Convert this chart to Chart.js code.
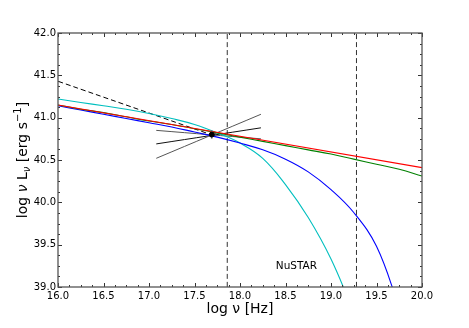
<!DOCTYPE html>
<html>
<head>
<meta charset="utf-8">
<script src="https://cdn.jsdelivr.net/npm/chart.js@4.4.1/dist/chart.umd.min.js"></script>
<style>
  html, body { margin: 0; padding: 0; background: #fff; }
  #wrap { width: 469px; height: 328px; }
</style>
</head>
<body>
<div id="wrap"><canvas id="sed-chart"></canvas></div>
<script>
// x grid, log nu [Hz]
const logNu = [16.0, 16.25, 16.5, 16.75, 17.0, 17.25, 17.5, 17.75, 18.0, 18.25, 18.5, 18.75, 19.0, 19.25, 19.5, 19.75, 20.0];

// model curves, log nu L_nu [erg/s]
const redX = [16.0, 20.0];
const redModel = [41.15, 40.41];
const greenModel = [41.15, 41.10, 41.06, 41.01, 40.96, 40.92, 40.87, 40.82, 40.77, 40.72, 40.67, 40.62, 40.57, 40.51, 40.45, 40.39, 40.31];
const blueModel  = [41.14, 41.09, 41.04, 40.99, 40.94, 40.89, 40.83, 40.77, 40.70, 40.62, 40.51, 40.36, 40.15, 39.88, 39.48, 38.76, null];
const cyanModel  = [41.22, 41.18, 41.14, 41.10, 41.05, 40.99, 40.92, 40.82, 40.70, 40.52, 40.21, 39.82, 39.33, 38.70, null, null, null];

// dashed extrapolation to the data point
const dashX = [16.0, 17.68];
const dashY = [41.43, 40.80];

// observed point with error bar
const obsX = 17.69;
const obsY = 40.80;
const obsErr = 0.05;

// bow-tie slopes
const bowX = [17.08, 18.23];
const bowSteep = [40.52, 41.04];
const bowMid   = [40.69, 40.88];
const bowFlat  = [40.85, 40.75];

// NuSTAR band edges
const bandEdges = [17.86, 19.28];
const bandLabel = 'NuSTAR';
const bandLabelPos = [18.62, 39.24];

const xRange = [16, 20];
const yRange = [39, 42];

const FONT = "'DejaVu Sans', sans-serif";

function toPoints(xs, ys) {
    const pts = [];
    xs.forEach((x, i) => {
        if (ys[i] !== null) pts.push({ x: x, y: ys[i] });
    });
    return pts;
}

function lineSet(data, color, width, dash) {
    return {
        data: data,
        showLine: true,
        borderColor: color,
        backgroundColor: color,
        borderWidth: width,
        borderDash: dash || [],
        pointRadius: 0,
        tension: 0.4,
        fill: false
    };
}

// inward major/minor ticks on all four sides + frame
const frameTicks = {
    id: 'frameTicks',
    afterDatasetsDraw(chart) {
        const ctx = chart.ctx;
        const a = chart.chartArea;
        const xs = chart.scales.x;
        const ys = chart.scales.y;
        ctx.save();
        ctx.strokeStyle = '#333';
        ctx.lineWidth = 1;

        const tick = (p, len, horizontal) => {
            ctx.beginPath();
            if (horizontal) {
                const px = Math.round(p) + 0.5;
                ctx.moveTo(px, a.bottom); ctx.lineTo(px, a.bottom - len);
                ctx.moveTo(px, a.top); ctx.lineTo(px, a.top + len);
            } else {
                const py = Math.round(p) + 0.5;
                ctx.moveTo(a.left, py); ctx.lineTo(a.left + len, py);
                ctx.moveTo(a.right, py); ctx.lineTo(a.right - len, py);
            }
            ctx.stroke();
        };
        const drawAxis = (scale, horizontal) => {
            const vals = scale.ticks.map(t => t.value);
            for (let i = 0; i < vals.length; i++) {
                tick(scale.getPixelForValue(vals[i]), 4, horizontal);
                if (i < vals.length - 1) {
                    const step = (vals[i + 1] - vals[i]) / 4;
                    for (let k = 1; k < 4; k++) {
                        tick(scale.getPixelForValue(vals[i] + k * step), 2, horizontal);
                    }
                }
            }
        };
        drawAxis(xs, true);
        drawAxis(ys, false);

        ctx.strokeStyle = '#555';
        ctx.lineWidth = 1.3;
        ctx.strokeRect(a.left, a.top, a.right - a.left, a.bottom - a.top);

        // band label
        ctx.fillStyle = '#000';
        ctx.font = '10.5px ' + FONT;
        ctx.textAlign = 'center';
        ctx.textBaseline = 'middle';
        ctx.fillText(bandLabel, xs.getPixelForValue(bandLabelPos[0]), ys.getPixelForValue(bandLabelPos[1]));
        ctx.restore();
    },
    afterDraw(chart) {
        // y axis title with sub/superscripts
        const ctx = chart.ctx;
        const a = chart.chartArea;
        const parts = [
            { t: 'log ', s: 14, dy: 0 },
            { t: 'ν', s: 14, dy: 0, it: true },
            { t: ' L', s: 14, dy: 0 },
            { t: 'ν', s: 10, dy: 3, it: true },
            { t: ' [erg s', s: 14, dy: 0 },
            { t: '−1', s: 10, dy: -6 },
            { t: ']', s: 14, dy: 0 }
        ];
        ctx.save();
        const fontOf = p => (p.it ? 'italic ' : '') + p.s + 'px ' + FONT;
        let total = 0;
        parts.forEach(p => { ctx.font = fontOf(p); p.w = ctx.measureText(p.t).width; total += p.w; });
        ctx.translate(27, (a.top + a.bottom) / 2);
        ctx.rotate(-Math.PI / 2);
        ctx.fillStyle = '#000';
        ctx.textAlign = 'left';
        ctx.textBaseline = 'alphabetic';
        let cx = -total / 2;
        parts.forEach(p => {
            ctx.font = fontOf(p);
            ctx.fillText(p.t, cx, p.dy);
            cx += p.w;
        });
        ctx.restore();
    }
};

const datasets = [
    // observed point
    { data: [{ x: obsX, y: obsY }], showLine: false, pointRadius: 2.5, pointStyle: 'circle',
      backgroundColor: '#000', borderColor: '#000', borderWidth: 1 },
    lineSet([{ x: obsX, y: obsY - obsErr }, { x: obsX, y: obsY + obsErr }], '#666', 1.2),
    lineSet(toPoints(redX, redModel), '#ff0000', 1.1),
    lineSet(toPoints(logNu, greenModel), '#008000', 1.1),
    lineSet(toPoints(logNu, blueModel), '#0000ff', 1.1),
    lineSet(toPoints(logNu, cyanModel), '#00bfbf', 1.1),
    lineSet(toPoints(dashX, dashY), '#000', 1, [5, 3]),
    lineSet(toPoints(bowX, bowSteep), '#555', 1),
    lineSet(toPoints(bowX, bowMid), '#111', 1),
    lineSet(toPoints(bowX, bowFlat), '#555', 1),
    lineSet([{ x: bandEdges[0], y: yRange[0] }, { x: bandEdges[0], y: yRange[1] }], '#333', 1, [5, 3]),
    lineSet([{ x: bandEdges[1], y: yRange[0] }, { x: bandEdges[1], y: yRange[1] }], '#333', 1, [5, 3])
];

new Chart(document.getElementById('sed-chart').getContext('2d'), {
    type: 'scatter',
    data: { datasets: datasets },
    options: {
        responsive: true,
        maintainAspectRatio: false,
        animation: false,
        layout: { padding: { top: 33, right: 47, bottom: 0, left: 0 } },
        scales: {
            x: {
                type: 'linear',
                min: xRange[0],
                max: xRange[1],
                grid: { display: false, drawTicks: false },
                border: { display: false },
                ticks: {
                    stepSize: 0.5,
                    color: '#000',
                    padding: 3,
                    maxRotation: 0,
                    font: { family: FONT, size: 10 },
                    callback: v => v.toFixed(1)
                },
                title: {
                    display: true,
                    text: 'log ν [Hz]',
                    color: '#000',
                    font: { family: FONT, size: 14 },
                    padding: { top: 0, bottom: 10 }
                },
                afterFit: s => { s.height = 41; }
            },
            y: {
                type: 'linear',
                min: yRange[0],
                max: yRange[1],
                grid: { display: false, drawTicks: false },
                border: { display: false },
                ticks: {
                    stepSize: 0.5,
                    color: '#000',
                    padding: 2,
                    font: { family: FONT, size: 10 },
                    callback: v => v.toFixed(1)
                },
                afterFit: s => { s.width = 58; }
            }
        },
        plugins: {
            legend: { display: false },
            tooltip: { enabled: false }
        }
    },
    plugins: [frameTicks]
});
</script>
</body>
</html>
